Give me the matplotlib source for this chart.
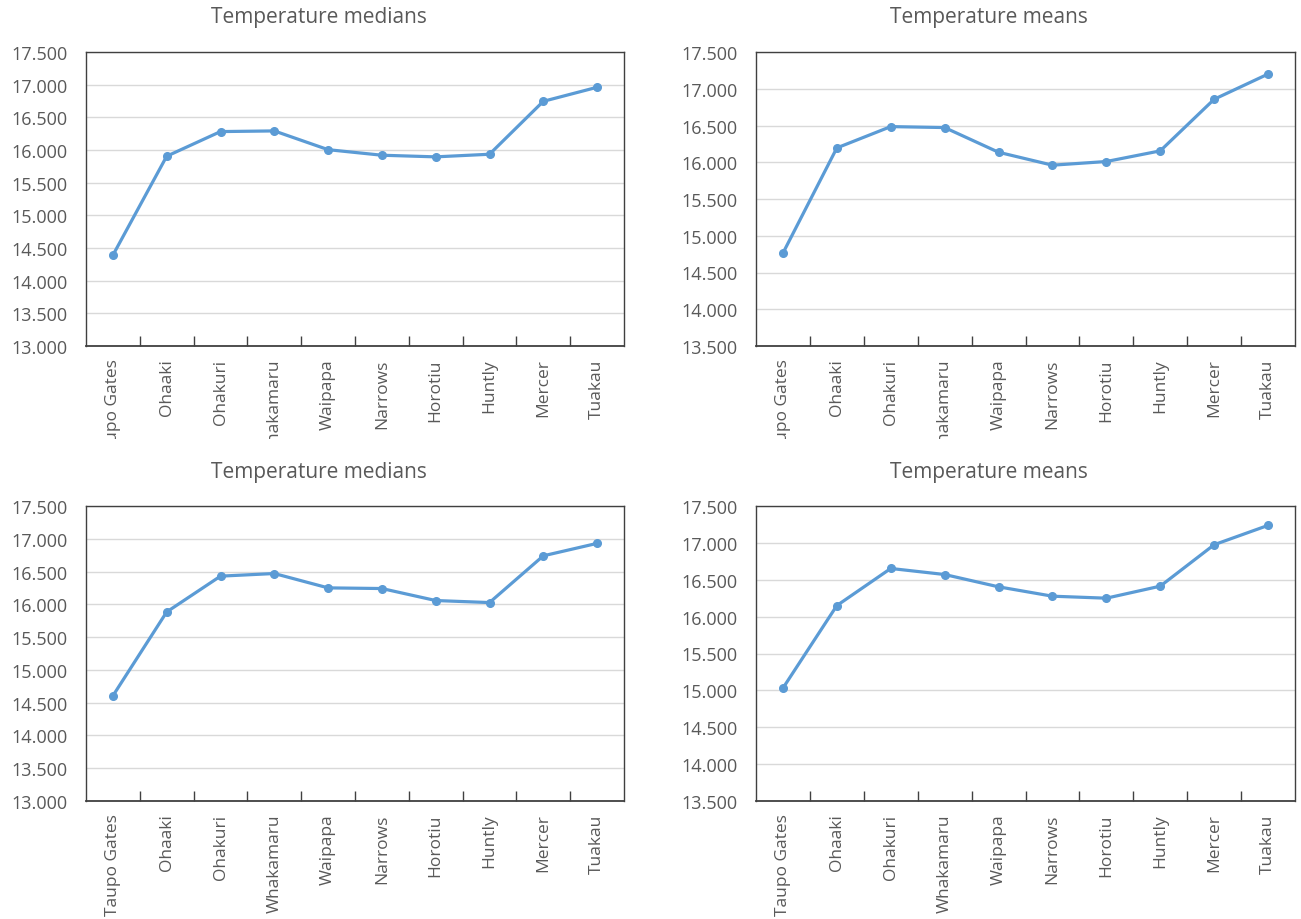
import numpy as np
import matplotlib
matplotlib.use("Agg")
import matplotlib.pyplot as plt
from matplotlib.transforms import Bbox, TransformedBbox

# Data
sites = ["Taupo Gates", "Ohaaki", "Ohakuri", "Whakamaru", "Waipapa",
         "Narrows", "Horotiu", "Huntly", "Mercer", "Tuakau"]

medians_a = [14.39, 15.905, 16.282, 16.292, 16.005, 15.92, 15.895, 15.935, 16.745, 16.96]
means_a = [14.764, 16.195, 16.485, 16.472, 16.136, 15.96, 16.01, 16.155, 16.857, 17.20]
medians_b = [14.605, 15.884, 16.43, 16.47, 16.251, 16.241, 16.058, 16.027, 16.74, 16.93]
means_b = [15.031, 16.15, 16.653, 16.571, 16.404, 16.277, 16.25, 16.413, 16.975, 17.237]

median_ticks = np.arange(13.0, 17.51, 0.5)
mean_ticks = np.arange(13.5, 17.51, 0.5)

TEXT = "#595959"
LINE = "#5b9bd5"
plt.rcParams["font.family"] = ["Open Sans", "DejaVu Sans"]

W, H = 1301, 920


def draw_panel(fig, rect, values, yticks, clip_bottom=None):
    ax = fig.add_axes(rect)
    x = np.arange(len(sites))
    ax.plot(x, values, color=LINE, lw=2.3, marker="o", ms=5.5, zorder=3)
    ax.set_xlim(-0.5, len(sites) - 0.5)
    ax.set_ylim(yticks[0], yticks[-1])
    ax.set_yticks(yticks)
    ax.set_yticklabels([f"{v:.3f}" for v in yticks], fontsize=13, color=TEXT)
    ax.yaxis.grid(True, color="#d9d9d9", lw=1)
    ax.set_axisbelow(True)
    ax.tick_params(axis="y", length=0, pad=13)

    ax.set_xticks(x)
    ax.set_xticklabels(sites, rotation=90, fontsize=12.5, color=TEXT, va="top")
    ax.tick_params(axis="x", which="major", length=0, pad=9)
    ax.set_xticks(np.arange(0.5, len(sites) - 1, 1.0), minor=True)
    ax.tick_params(axis="x", which="minor", direction="in", length=7,
                   width=1, color="#404040")

    for s in ax.spines.values():
        s.set_color("#404040")
        s.set_linewidth(1)
    ax.spines["bottom"].set_linewidth(1.3)

    # top row: category labels are cut off at the chart area's lower edge
    if clip_bottom is not None:
        box = Bbox.from_extents(0, (H - clip_bottom) / H, 1, 1)
        tb = TransformedBbox(box, fig.transFigure)
        for lab in ax.get_xticklabels():
            lab.set_clip_on(True)
            lab.set_clip_box(tb)
    return ax


fig = plt.figure(figsize=(W / 100, H / 100), dpi=100)


def rect(l, r, t, b):
    return [l / W, (H - b) / H, (r - l) / W, (b - t) / H]


draw_panel(fig, rect(86, 624, 53, 347), medians_a, median_ticks, clip_bottom=440)
draw_panel(fig, rect(756, 1295, 53, 347), means_a, mean_ticks, clip_bottom=440)
draw_panel(fig, rect(86, 624, 507, 802), medians_b, median_ticks)
draw_panel(fig, rect(756, 1295, 507, 802), means_b, mean_ticks)

for y in (18, 473):
    fig.text(319 / W, 1 - y / H, "Temperature medians", ha="center", va="center",
             fontsize=15, color=TEXT)
    fig.text(989 / W, 1 - y / H, "Temperature means", ha="center", va="center",
             fontsize=15, color=TEXT)

fig.savefig("out.png", dpi=100)
